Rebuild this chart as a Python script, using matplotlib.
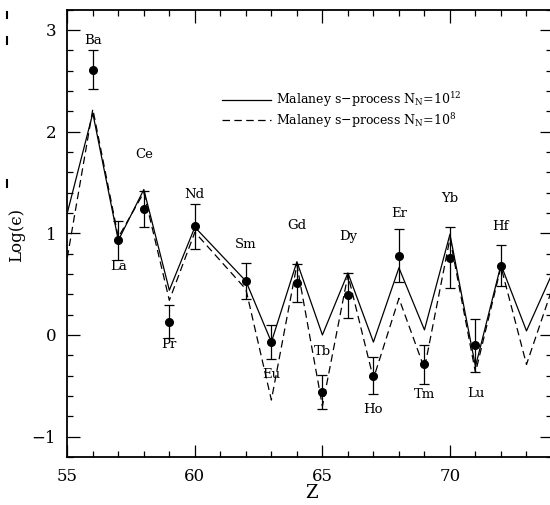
import matplotlib
matplotlib.use("Agg")
import matplotlib.pyplot as plt
from matplotlib.ticker import MultipleLocator
from matplotlib.lines import Line2D

# ---------------- data ----------------
elements = ['Ba', 'La', 'Ce', 'Pr', 'Nd', 'Sm', 'Eu', 'Gd', 'Tb', 'Dy',
            'Ho', 'Er', 'Tm', 'Yb', 'Lu', 'Hf']
obs_z = [56, 57, 58, 59, 60, 62, 63, 64, 65, 66, 67, 68, 69, 70, 71, 72]
obs_val = [2.61, 0.93, 1.24, 0.13, 1.07, 0.53, -0.07, 0.51, -0.56, 0.39,
           -0.40, 0.78, -0.29, 0.76, -0.10, 0.68]
obs_err = [0.19, 0.19, 0.18, 0.16, 0.22, 0.18, 0.17, 0.19, 0.17, 0.22,
           0.18, 0.26, 0.19, 0.30, 0.26, 0.20]

model_z = [55, 56, 57, 58, 59, 60, 62, 63, 64, 65, 66, 67, 68, 69, 70,
           71, 72, 73, 74]
model_1e12 = [1.20, 2.18, 0.93, 1.43, 0.44, 1.06, 0.53, -0.07, 0.72, 0.00,
              0.61, -0.07, 0.66, 0.05, 0.99, -0.31, 0.69, 0.04, 0.60]
model_1e8 = [0.76, 2.22, 0.96, 1.40, 0.34, 1.01, 0.45, -0.64, 0.69, -0.70,
             0.59, -0.43, 0.36, -0.33, 0.95, -0.37, 0.67, -0.29, 0.45]

legend_labels = [r'Malaney s$-$process N$_\mathrm{N}$=10$^{12}$',
                 r'Malaney s$-$process N$_\mathrm{N}$=10$^{8}$']

# ---------------- layout (label placement) ----------------
label_y = [2.90, 0.67, 1.77, -0.09, 1.38, 0.89, -0.39, 1.08, -0.16, 0.97,
           -0.73, 1.19, -0.59, 1.34, -0.58, 1.07]

plt.rcParams['font.family'] = ['DejaVu Serif']
plt.rcParams['mathtext.fontset'] = 'dejavuserif'

W, H = 550, 505
fig = plt.figure(figsize=(W / 100, H / 100), dpi=100)
left, right, top, bottom = 67.3, 552.0, 9.5, 457.0
ax = fig.add_axes([left / W, 1 - bottom / H, (right - left) / W, (bottom - top) / H])

ax.plot(model_z, model_1e12, color='black', lw=0.9, label=legend_labels[0])
ax.plot(model_z, model_1e8, color='black', lw=0.9, dashes=(6, 3.5),
        label=legend_labels[1])
ax.errorbar(obs_z, obs_val, yerr=obs_err, fmt='o', color='black', ms=5.5,
            elinewidth=0.9, capsize=3.5, capthick=0.9, zorder=3)

for name, z, ly in zip(elements, obs_z, label_y):
    ax.text(z, ly, name, ha='center', va='center', fontsize=9.5)

ax.set_xlim(55, 74)
ax.set_ylim(-1.2, 3.2)
ax.xaxis.set_major_locator(MultipleLocator(5))
ax.xaxis.set_minor_locator(MultipleLocator(1))
ax.yaxis.set_major_locator(MultipleLocator(1))
ax.yaxis.set_minor_locator(MultipleLocator(0.2))
ax.tick_params(which='both', direction='in', top=True, right=True,
               width=0.9, labelsize=12)
ax.tick_params(which='major', length=9, pad=8)
ax.tick_params(which='minor', length=4.5)
ax.set_yticks([-1, 0, 1, 2, 3])
ax.set_yticklabels(['\u22121', '0', '1', '2', '3'])
for sp in ax.spines.values():
    sp.set_linewidth(1.3)

fig.text(311 / W, 1 - 493 / H, 'Z', ha='center', va='center', fontsize=13)
fig.text(17 / W, 1 - 235 / H, 'Log(\u03f5)', ha='center', va='center',
         fontsize=12, rotation=90)

leg = ax.legend(loc='upper left', bbox_to_anchor=(0.319, 0.82), frameon=False,
                fontsize=9.0, handlelength=3.9, handletextpad=0.45,
                borderpad=0, borderaxespad=0, labelspacing=0.15)

# stray marks at the left edge of the scan
for y0, y1 in [(12, 18), (37, 44), (180, 187)]:
    fig.add_artist(Line2D([7 / W, 7 / W], [1 - y0 / H, 1 - y1 / H],
                          color='black', lw=1.5, transform=fig.transFigure))

fig.savefig('out.png', dpi=100)
